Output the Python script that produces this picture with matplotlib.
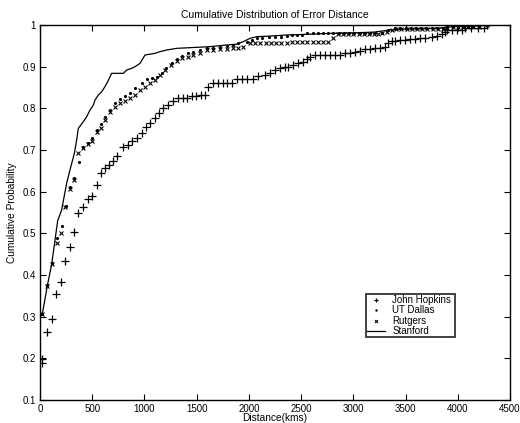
import matplotlib
matplotlib.use('Agg')
import matplotlib.pyplot as plt

plt.rcParams['font.family'] = ['Liberation Sans', 'DejaVu Sans']

# John Hopkins
jh_x = [15, 22, 70, 112, 157, 198, 239, 284, 329, 367, 409, 456, 501, 543, 581, 622, 664, 702,
        740, 798, 839, 884, 926, 973, 1015, 1053, 1101, 1143, 1181, 1229, 1277, 1324, 1366, 1410,
        1452, 1494, 1539, 1583, 1612, 1660, 1705, 1750, 1795, 1840, 1883, 1935, 1985, 2040, 2090,
        2150, 2202, 2250, 2298, 2346, 2378, 2426, 2474, 2522, 2553, 2585, 2633, 2681, 2729, 2777,
        2825, 2872, 2920, 2968, 3016, 3064, 3112, 3160, 3208, 3255, 3303, 3335, 3367, 3399, 3447,
        3495, 3543, 3590, 3640, 3690, 3750, 3797, 3846, 3878, 3894, 3942, 3990, 4038, 4070, 4130,
        4190, 4250, 4283]
jh_y = [0.19, 0.198, 0.263, 0.294, 0.355, 0.383, 0.433, 0.468, 0.503, 0.55, 0.563, 0.582, 0.59,
        0.616, 0.644, 0.656, 0.665, 0.674, 0.686, 0.708, 0.711, 0.721, 0.73, 0.742, 0.755, 0.764,
        0.776, 0.79, 0.8, 0.809, 0.817, 0.824, 0.826, 0.826, 0.829, 0.83, 0.831, 0.832, 0.852,
        0.862, 0.862, 0.862, 0.862, 0.862, 0.871, 0.871, 0.871, 0.871, 0.878, 0.88, 0.884, 0.892,
        0.896, 0.9, 0.9, 0.904, 0.908, 0.912, 0.918, 0.924, 0.928, 0.928, 0.928, 0.928, 0.928,
        0.928, 0.932, 0.932, 0.936, 0.938, 0.942, 0.942, 0.944, 0.944, 0.948, 0.956, 0.962, 0.962,
        0.964, 0.964, 0.966, 0.966, 0.968, 0.968, 0.972, 0.974, 0.978, 0.984, 0.988, 0.988, 0.988,
        0.988, 0.993, 0.993, 0.993, 0.993, 1.0]

# UT Dallas
utd_x = [22, 70, 112, 160, 207, 245, 287, 329, 373, 415, 456, 501, 543, 584, 622, 670, 718, 766,
         814, 862, 910, 973, 1021, 1069, 1117, 1165, 1210, 1260, 1309, 1360, 1415, 1468, 1530,
         1596, 1660, 1720, 1787, 1850, 1900, 1979, 2030, 2075, 2130, 2190, 2250, 2310, 2362, 2410,
         2460, 2510, 2560, 2610, 2660, 2710, 2760, 2810, 2860, 2910, 2960, 3010, 3060, 3110, 3160,
         3210, 3275, 3335, 3400, 3450, 3500, 3550, 3600, 3650, 3700, 3750, 3800, 3860, 3900, 3950,
         4000, 4050, 4100, 4150, 4200, 4283]
utd_y = [0.306, 0.376, 0.428, 0.488, 0.518, 0.566, 0.612, 0.632, 0.672, 0.708, 0.718, 0.728,
         0.748, 0.762, 0.78, 0.796, 0.812, 0.822, 0.83, 0.836, 0.848, 0.86, 0.87, 0.874, 0.876,
         0.884, 0.896, 0.908, 0.918, 0.926, 0.932, 0.936, 0.94, 0.944, 0.946, 0.948, 0.95, 0.952,
         0.956, 0.96, 0.964, 0.968, 0.97, 0.971, 0.972, 0.972, 0.974, 0.976, 0.976, 0.976, 0.98,
         0.98, 0.98, 0.98, 0.98, 0.98, 0.98, 0.98, 0.98, 0.98, 0.98, 0.98, 0.98, 0.98, 0.98, 0.988,
         0.992, 0.992, 0.992, 0.992, 0.992, 0.992, 0.992, 0.992, 0.992, 0.992, 0.996, 0.996, 0.996,
         0.996, 0.996, 0.996, 0.996, 1.0]

# Rutgers
rut_x = [22, 70, 112, 160, 201, 239, 287, 329, 367, 415, 456, 501, 543, 584, 622, 670, 718, 766,
         814, 862, 910, 958, 1005, 1053, 1101, 1149, 1200, 1255, 1309, 1360, 1415, 1468, 1530,
         1596, 1660, 1720, 1787, 1850, 1900, 1947, 2011, 2060, 2110, 2160, 2210, 2260, 2310, 2362,
         2410, 2460, 2510, 2560, 2610, 2660, 2710, 2758, 2808, 2853, 2900, 2950, 3000, 3050, 3100,
         3150, 3200, 3236, 3271, 3319, 3367, 3410, 3460, 3510, 3560, 3610, 3660, 3710, 3760, 3810,
         3860, 3894, 3950, 4000, 4050, 4100, 4150, 4200, 4283]
rut_y = [0.306, 0.374, 0.426, 0.478, 0.502, 0.563, 0.606, 0.628, 0.694, 0.704, 0.714, 0.722,
         0.744, 0.754, 0.772, 0.792, 0.804, 0.812, 0.818, 0.826, 0.832, 0.844, 0.852, 0.86, 0.868,
         0.88, 0.893, 0.905, 0.914, 0.92, 0.924, 0.928, 0.934, 0.94, 0.941, 0.942, 0.942, 0.945,
         0.946, 0.948, 0.956, 0.956, 0.956, 0.956, 0.956, 0.956, 0.956, 0.956, 0.96, 0.96, 0.96,
         0.96, 0.96, 0.96, 0.96, 0.96, 0.968, 0.978, 0.978, 0.978, 0.978, 0.978, 0.978, 0.978,
         0.978, 0.978, 0.982, 0.984, 0.988, 0.99, 0.99, 0.99, 0.99, 0.99, 0.99, 0.99, 0.99, 0.99,
         0.99, 0.994, 0.996, 0.996, 0.996, 0.996, 0.996, 0.996, 1.0]

# Stanford
stan_x = [22, 70, 112, 169, 207, 255, 287, 329, 351, 367, 415, 447, 479, 511, 527, 559, 591, 622,
          648, 686, 798, 830, 878, 910, 958, 1005, 1053, 1101, 1149, 1213, 1309, 1468, 1628, 1787,
          1883, 1947, 2011, 2075, 2170, 2362, 2600, 2800, 3000, 3200, 3350, 3500, 3800, 3950, 4200,
          4283]
stan_y = [0.306, 0.374, 0.426, 0.53, 0.556, 0.62, 0.652, 0.692, 0.724, 0.752, 0.768, 0.78, 0.796,
          0.808, 0.82, 0.832, 0.84, 0.852, 0.864, 0.884, 0.884, 0.892, 0.896, 0.9, 0.908, 0.928,
          0.93, 0.932, 0.936, 0.94, 0.944, 0.946, 0.948, 0.952, 0.954, 0.96, 0.968, 0.972, 0.973,
          0.976, 0.978, 0.98, 0.981, 0.983, 0.988, 0.99, 0.992, 0.996, 0.998, 1.0]

fig = plt.figure(figsize=(5.2, 4.23), dpi=100)
ax = fig.add_axes([40 / 520, 23 / 423, 470 / 520, 375 / 423])

ax.plot(jh_x, jh_y, linestyle='none', marker='+', color='black', markersize=5.5,
        markeredgewidth=0.9, label='John Hopkins')
ax.plot(utd_x, utd_y, linestyle='none', marker='.', color='black', markersize=2.5,
        label='UT Dallas')
ax.plot(rut_x, rut_y, linestyle='none', marker='x', color='black', markersize=3.5,
        markeredgewidth=0.8, label='Rutgers')
ax.plot(stan_x, stan_y, color='black', linewidth=0.9, label='Stanford')

ax.set_xlim(0, 4500)
ax.set_ylim(0.1, 1.0)
ax.set_xticks(range(0, 4501, 500))
ax.set_yticks([0.1, 0.2, 0.3, 0.4, 0.5, 0.6, 0.7, 0.8, 0.9, 1.0])
ax.set_yticklabels(['0.1', '0.2', '0.3', '0.4', '0.5', '0.6', '0.7', '0.8', '0.9', '1'])
ax.tick_params(direction='in', top=True, right=True, labelsize=7, length=4, width=0.8, pad=3)
for s in ax.spines.values():
    s.set_linewidth(1.0)

ax.set_title('Cumulative Distribution of Error Distance', fontsize=7.5, pad=5)
ax.set_xlabel('Distance(kms)', fontsize=7.3, labelpad=-1)
ax.set_ylabel('Cumulative Probability', fontsize=7.3, labelpad=4)

leg = ax.legend(loc='lower left', bbox_to_anchor=(0.694, 0.167, 0.189, 0.119), mode='expand',
                fontsize=7, frameon=True, fancybox=False, borderpad=0.1, labelspacing=0.05,
                handlelength=1.8, handletextpad=0.8, borderaxespad=0, markerscale=0.6)
leg.get_frame().set_edgecolor('black')
leg.get_frame().set_linewidth(1.3)

fig.savefig('out.png', dpi=100)
